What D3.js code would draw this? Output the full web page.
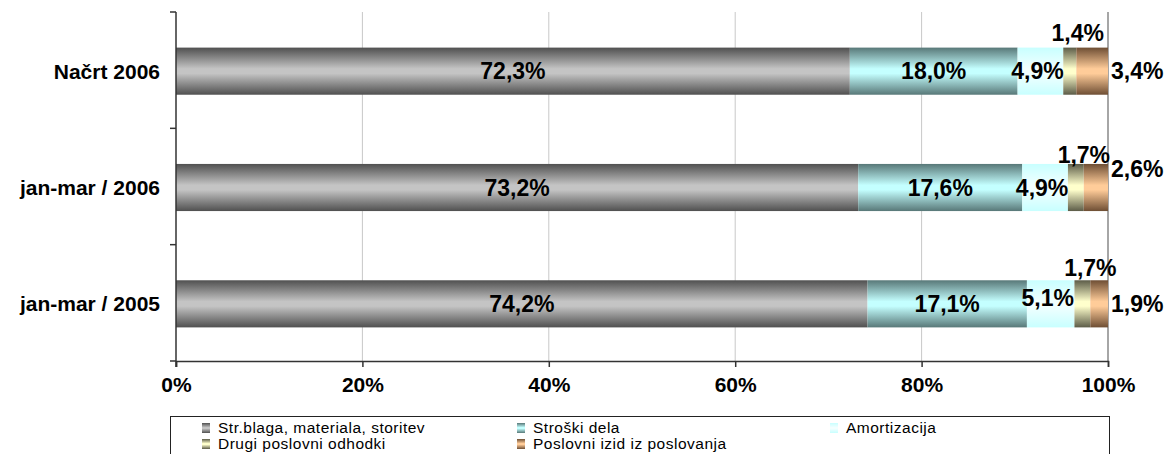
<!DOCTYPE html>
<html><head><meta charset="utf-8">
<script src="https://cdn.jsdelivr.net/npm/d3@7"></script>
<style>
html,body{margin:0;padding:0;background:#fff;}
svg{display:block;font-family:"Liberation Sans",Arial,sans-serif;}
</style></head>
<body><svg id="c" width="1172" height="454"></svg>
<script>
const categories = ["Načrt 2006", "jan-mar / 2006", "jan-mar / 2005"];
const seriesNames = ["Str.blaga, materiala, storitev", "Stroški dela", "Amortizacija", "Drugi poslovni odhodki", "Poslovni izid iz poslovanja"];
const strBlaga = [72.3, 73.2, 74.2];
const stroskiDela = [18.0, 17.6, 17.1];
const amortizacija = [4.9, 4.9, 5.1];
const drugiOdhodki = [1.4, 1.7, 1.7];
const poslovniIzid = [3.4, 2.6, 1.9];
const xTicks = [0, 20, 40, 60, 80, 100];

const seriesValues = [strBlaga, stroskiDela, amortizacija, drugiOdhodki, poslovniIzid];
// gradient colours: [edge, middle]
const colors = [["#505050", "#c4c4c4"], ["#587878", "#c4ffff"], ["#c8ffff", "#f2ffff"], ["#5c5c48", "#ffffcc"], ["#6e4e34", "#ffcc99"]];

const svg = d3.select("#c");
const pLeft = 176, pRight = 1108, pTop = 12, pBottom = 361;

const x = d3.scaleLinear().domain([0, 100]).range([pLeft, pRight]);
const y = d3.scaleBand().domain(categories).range([pTop, pBottom]);
const barH = y.bandwidth() * 0.405;

const defs = svg.append("defs");
colors.forEach((c, i) => {
  const g = defs.append("linearGradient").attr("id", "g" + i).attr("x1", 0).attr("y1", 0).attr("x2", 0).attr("y2", 1);
  g.append("stop").attr("offset", "0%").attr("stop-color", c[0]);
  g.append("stop").attr("offset", "45%").attr("stop-color", c[1]);
  g.append("stop").attr("offset", "55%").attr("stop-color", c[1]);
  g.append("stop").attr("offset", "100%").attr("stop-color", c[0]);
});

// gridlines
svg.append("g").selectAll("line").data(xTicks.filter(t => t > 0)).join("line")
  .attr("x1", d => x(d)).attr("x2", d => x(d)).attr("y1", pTop).attr("y2", pBottom)
  .attr("stroke", d => d === 100 ? "#888" : "#c8c8c8").attr("stroke-width", d => d === 100 ? 1.5 : 1);

// stacked data
const rows = categories.map((c, i) => {
  const o = {cat: c};
  seriesNames.forEach((s, j) => o[s] = seriesValues[j][i]);
  return o;
});
const stacked = d3.stack().keys(seriesNames)(rows);

const barY = c => y(c) + (y.bandwidth() - barH) / 2 + 1;

stacked.forEach((layer, j) => {
  svg.append("g").selectAll("rect").data(layer).join("rect")
    .attr("x", d => x(d[0])).attr("width", d => x(d[1]) - x(d[0]))
    .attr("y", d => barY(d.data.cat)).attr("height", barH)
    .attr("fill", `url(#g${j})`);
});

// axes
const xAxis = d3.axisBottom(x).tickValues(xTicks).tickFormat(d => d + "%").tickSize(6);
const gx = svg.append("g").attr("transform", `translate(0,${pBottom})`).call(xAxis);
gx.select(".domain").attr("stroke", "#333").attr("stroke-width", 1.5);
gx.selectAll(".tick line").attr("stroke", "#333").attr("stroke-width", 1.5);
gx.selectAll(".tick text").attr("fill", "#000").attr("font-size", "21px").attr("font-weight", "bold")
  .attr("font-family", "Liberation Sans, Arial, sans-serif").attr("y", 16);

const gy = svg.append("g");
gy.append("line").attr("x1", pLeft).attr("x2", pLeft).attr("y1", pTop).attr("y2", pBottom + 6).attr("stroke", "#333").attr("stroke-width", 1.5);
const bounds = [pTop].concat(categories.map(c => y(c) + y.bandwidth()));
gy.selectAll("line.t").data(bounds).join("line").attr("class", "t")
  .attr("x1", pLeft - 6).attr("x2", pLeft).attr("y1", d => d).attr("y2", d => d)
  .attr("stroke", "#333").attr("stroke-width", 1.5);
gy.selectAll("text").data(categories).join("text")
  .attr("x", 160).attr("y", d => y(d) + y.bandwidth() / 2 + 1).attr("dy", "0.35em")
  .attr("text-anchor", "end").attr("font-size", "21px").attr("font-weight", "bold").text(d => d);

// value labels
const fmt = v => v.toFixed(1).replace(".", ",") + "%";
const aboveNudge = [-15, -9, -12];
const lbl = svg.append("g").attr("font-size", "23px").attr("font-weight", "bold").attr("fill", "#000");
stacked.forEach((layer, j) => {
  layer.forEach((d, i) => {
    const cy = barY(d.data.cat) + barH / 2;
    let tx, ty, anchor = "middle";
    if (j <= 2) {
      tx = x((d[0] + d[1]) / 2) - (j === 2 ? 3 : 0);
      ty = cy + (j === 2 && i === 2 ? -6 : 0);
    } else if (j === 3) {
      tx = x((d[0] + d[1]) / 2) + 8;
      ty = barY(d.data.cat) + aboveNudge[i];
    } else {
      tx = pRight + 3; anchor = "start";
      ty = cy + (i === 1 ? -19 : 0);
    }
    lbl.append("text").attr("x", tx).attr("y", ty).attr("dy", "0.35em").attr("text-anchor", anchor).text(fmt(d[1] - d[0]));
  });
});

// legend
const lg = svg.append("g");
lg.append("rect").attr("x", 170.5).attr("y", 416.5).attr("width", 939).attr("height", 50).attr("fill", "#fff").attr("stroke", "#222").attr("stroke-width", 1);
const legPos = [[202, 428], [517, 428], [830, 428], [202, 444], [517, 444]];
seriesNames.forEach((s, j) => {
  const [lx, ly] = legPos[j];
  lg.append("rect").attr("x", lx).attr("y", ly - 5).attr("width", 8).attr("height", 10).attr("fill", `url(#g${j})`);
  lg.append("text").attr("x", lx + 16).attr("y", ly).attr("dy", "0.35em").attr("font-size", "15.5px")
    .attr("letter-spacing", "0.5px").attr("fill", "#000").text(s);
});
</script></body></html>
